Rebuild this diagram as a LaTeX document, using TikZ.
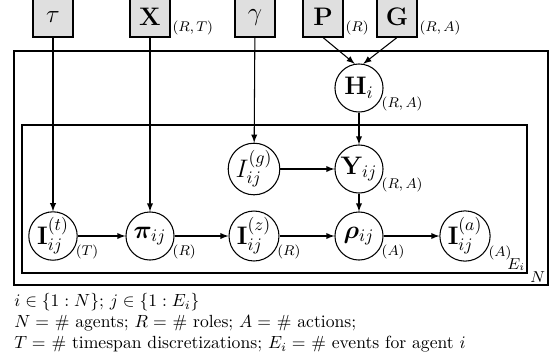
\documentclass[tikz,border=0pt]{standalone}
\usepackage{amsmath}
\usepackage{amssymb,latexsym}
\usepackage{bm}
\usepackage{tikz}
\usetikzlibrary{calc}
\tikzset{latent/.style={circle, draw, semithick, fill=white, inner sep=0pt, minimum size=27.3pt, font=\Large}}
\tikzset{param/.style={rectangle, draw, semithick, fill=gray!25, inner sep=0pt, minimum size=22.7pt, font=\Large}}
\tikzset{plate/.style={draw, semithick}}
\tikzset{dimlab/.style={anchor=west, inner sep=2pt, font=\footnotesize}}
\tikzset{boxlab/.style={anchor=south west, inner sep=1pt, font=\footnotesize}}

\begin{document}
\begin{tikzpicture}[x=0.568pt, y=-0.568pt, >=latex]
\useasboundingbox (0,0) rectangle (555,362);

% plates
\draw[plate] (14,51) rectangle (548,285);
\draw[plate] (22,125) rectangle (527,273);
\node[anchor=south east, inner sep=1.5pt, font=\small] (platen) at (548,285) {$N$};
\node[anchor=south east, inner sep=1pt, font=\small] (platee) at (527,273) {$E_i$};

% hyperparameters
\node[param] (tau) at (53,17) {$\tau$};
\node[param, label={[boxlab]south east:$(R,T)$}] (X) at (150,17) {$\mathbf{X}$};
\node[param] (gamma) at (255,17) {$\gamma$};
\node[param, label={[boxlab]south east:$(R)$}] (P) at (323,17) {$\mathbf{P}$};
\node[param, label={[boxlab]south east:$(R,A)$}] (G) at (397,17) {$\mathbf{G}$};

% latent variables
\node[latent, label={[dimlab]-40:$(R,A)$}] (H) at (359,88) {$\mathbf{H}_i$};
\node[latent] (Ig) at (254,169) {$I^{(g)}_{ij}$};
\node[latent, label={[dimlab]-40:$(R,A)$}] (Y) at (359,169) {$\mathbf{Y}_{ij}$};
\node[latent, label={[dimlab]-40:$(T)$}] (It) at (53,236) {$\mathbf{I}^{(t)}_{ij}$};
\node[latent, label={[dimlab]-40:$(R)$}] (pi) at (150,236) {$\bm{\pi}_{ij}$};
\node[latent, label={[dimlab]-40:$(R)$}] (Iz) at (254,236) {$\mathbf{I}^{(z)}_{ij}$};
\node[latent, label={[dimlab]-40:$(A)$}] (rho) at (359,236) {$\bm{\rho}_{ij}$};
\node[latent, label={[dimlab]-40:$(A)$}] (Ia) at (465,236) {$\mathbf{I}^{(a)}_{ij}$};

% edges
\draw[->, semithick] (tau) -- (It);
\draw[->, semithick] (X) -- (pi);
\draw[->, semithick] (gamma) -- (Ig);
\draw[->, semithick] (P.south) -- (H.100);
\draw[->, semithick] (G.south) -- (H.80);
\draw[->, semithick] (H) -- (Y);
\draw[->, semithick] (Ig) -- (Y);
\draw[->, semithick] (Y) -- (rho);
\draw[->, semithick] (It) -- (pi);
\draw[->, semithick] (pi) -- (Iz);
\draw[->, semithick] (Iz) -- (rho);
\draw[->, semithick] (rho) -- (Ia);

\node[anchor=north west, inner sep=0pt, align=left] (legend) at (14,293) {$i \in \{1:N\}$; $j \in \{1:E_i\}$\\
$N =$ \# agents; $R =$ \# roles; $A =$ \# actions;\\
$T =$ \# timespan discretizations; $E_i =$ \# events for agent $i$};

\end{tikzpicture}
\end{document}
